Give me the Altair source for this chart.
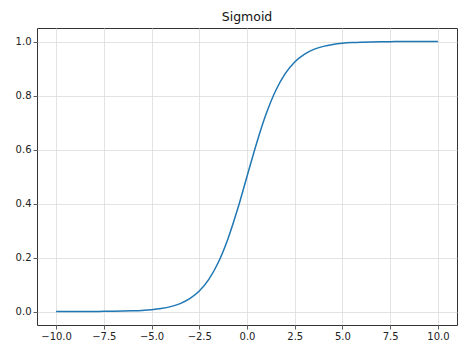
import altair as alt
import pandas as pd

xs = [-10.0, -9.5, -9.0, -8.5, -8.0, -7.5, -7.0, -6.5, -6.0, -5.5, -5.0, -4.5, -4.0, -3.5, -3.0,
      -2.5, -2.0, -1.5, -1.0, -0.5, 0.0, 0.5, 1.0, 1.5, 2.0, 2.5, 3.0, 3.5, 4.0, 4.5, 5.0,
      5.5, 6.0, 6.5, 7.0, 7.5, 8.0, 8.5, 9.0, 9.5, 10.0]
ys = [0.000045, 0.000075, 0.000123, 0.000203, 0.000335, 0.000553, 0.000911, 0.001501,
      0.002473, 0.004070, 0.006693, 0.010987, 0.017986, 0.029312, 0.047426, 0.075858,
      0.119203, 0.182426, 0.268941, 0.377541, 0.500000, 0.622459, 0.731059, 0.817574,
      0.880797, 0.924142, 0.952574, 0.970688, 0.982014, 0.989013, 0.993307, 0.995930,
      0.997527, 0.998499, 0.999089, 0.999447, 0.999665, 0.999797, 0.999877, 0.999925,
      0.999955]
x_ticks = [-10.0, -7.5, -5.0, -2.5, 0.0, 2.5, 5.0, 7.5, 10.0]
y_ticks = [0.0, 0.2, 0.4, 0.6, 0.8, 1.0]

df = pd.DataFrame({"x": xs, "y": ys})

axis_common = dict(
    grid=True, gridColor="#dcdcdc", gridWidth=0.8,
    domain=False, tickColor="#333333", tickSize=4, tickWidth=0.8,
    labelFont="DejaVu Sans", labelFontSize=10, labelColor="#222222",
    labelPadding=2, title=None, format=".1f",
)

chart = alt.Chart(df).mark_line(color="#1f77b4", strokeWidth=1.5, interpolate="monotone").encode(
    x=alt.X("x:Q", scale=alt.Scale(domain=[-11, 11], nice=False, zero=False),
            axis=alt.Axis(values=x_ticks, labelFlush=False, **axis_common)),
    y=alt.Y("y:Q", scale=alt.Scale(domain=[-0.05, 1.05], nice=False, zero=False),
            axis=alt.Axis(values=y_ticks, **axis_common)),
).properties(
    width=420, height=297,
    title=alt.TitleParams("Sigmoid", font="DejaVu Sans", fontSize=12.5, fontWeight="normal",
                          color="#111111", offset=5, anchor="middle"),
    autosize=alt.AutoSizeParams(type="none"),
    padding={"left": 29, "top": 20, "right": 9, "bottom": 25},
).configure_view(stroke="#333333", strokeWidth=1)

chart.save("out.html", embed_options={"renderer": "svg", "actions": False})
